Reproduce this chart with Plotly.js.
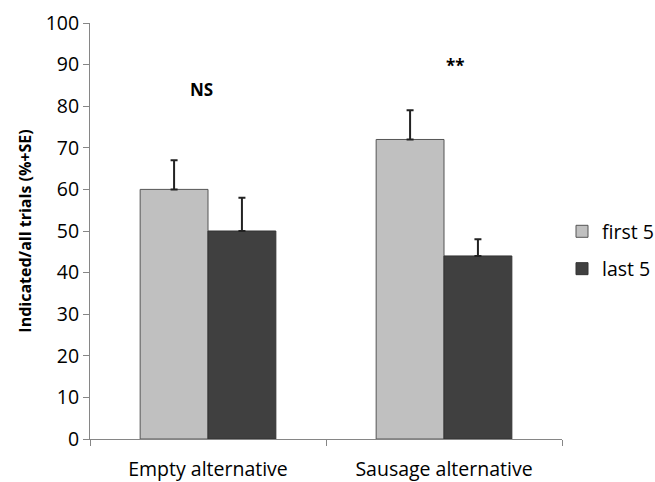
<!DOCTYPE html>
<html>
<head>
<meta charset="utf-8">
<script src="https://cdn.plot.ly/plotly-3.0.1.min.js"></script>
<style>
  html, body { margin: 0; padding: 0; background: #fff; }
  #chart { width: 655px; height: 482px; }
</style>
</head>
<body>
<div id="chart"></div>
<script>
// Conditions on the x axis
const categories = ['Empty alternative', 'Sausage alternative'];

// Mean proportion of indicated trials (%) and standard errors
const firstFive = [60, 72];
const firstFiveSE = [7, 7];
const lastFive = [50, 44];
const lastFiveSE = [8, 4];

// Significance markers above each pair
const sigLabels = ['NS', '**'];
const sigY = [84, 89.8];
const sigShift = [-7, 11];

const yTicks = [0, 10, 20, 30, 40, 50, 60, 70, 80, 90, 100];

const FONT = 'Open Sans, Noto Sans, DejaVu Sans, sans-serif';
const TICK_SIZE = 19.5;

const errStyle = {
  type: 'data',
  symmetric: false,
  color: '#222',
  thickness: 2,
  width: 3.5
};

const traces = [
  {
    type: 'bar',
    name: 'first 5',
    legendgroup: 'a',
    x: categories,
    y: firstFive,
    marker: { color: '#c0c0c0', line: { color: '#555', width: 1 } },
    error_y: Object.assign({ array: firstFiveSE, arrayminus: firstFiveSE.map(() => 0) }, errStyle)
  },
  {
    type: 'bar',
    name: 'last 5',
    legendgroup: 'b',
    x: categories,
    y: lastFive,
    marker: { color: '#404040', line: { color: '#333', width: 1 } },
    error_y: Object.assign({ array: lastFiveSE, arrayminus: lastFiveSE.map(() => 0) }, errStyle)
  }
];

const annotations = categories.map((c, i) => ({
  x: c,
  y: sigY[i],
  xref: 'x',
  yref: 'y',
  text: '<b>' + sigLabels[i] + '</b>',
  showarrow: false,
  xshift: sigShift[i],
  font: { family: FONT, size: 17, color: '#000' }
}));

const layout = {
  width: 655,
  height: 482,
  margin: { l: 90, r: 93, t: 23, b: 43, autoexpand: false },
  paper_bgcolor: '#fff',
  plot_bgcolor: '#fff',
  font: { family: FONT, size: TICK_SIZE, color: '#000' },
  barmode: 'group',
  bargap: 0.425,
  bargroupgap: 0,
  showlegend: true,
  legend: {
    x: 1.0,
    xanchor: 'left',
    y: 0.454,
    yanchor: 'middle',
    traceorder: 'grouped',
    tracegroupgap: 9,
    itemwidth: 30,
    bgcolor: 'rgba(0,0,0,0)',
    font: { family: FONT, size: TICK_SIZE, color: '#000' }
  },
  xaxis: {
    type: 'category',
    showline: true,
    linecolor: '#868686',
    linewidth: 1,
    ticks: 'outside',
    tickson: 'boundaries',
    ticklen: 6,
    tickcolor: '#868686',
    showgrid: false,
    zeroline: false,
    tickfont: { family: FONT, size: TICK_SIZE, color: '#000' },
    ticklabelstandoff: 13
  },
  yaxis: {
    range: [0, 100],
    tickmode: 'array',
    tickvals: yTicks,
    ticktext: yTicks.map(String),
    showline: true,
    linecolor: '#868686',
    linewidth: 1,
    ticks: 'outside',
    ticklen: 6,
    tickcolor: '#868686',
    showgrid: false,
    zeroline: false,
    tickfont: { family: FONT, size: TICK_SIZE, color: '#000' },
    title: {
      text: '<b>Indicated/all trials (%+SE)</b>',
      font: { family: FONT, size: 16, color: '#000' },
      standoff: 10
    }
  },
  annotations: annotations
};

Plotly.newPlot('chart', traces, layout, { displayModeBar: false, staticPlot: true });
</script>
</body>
</html>
